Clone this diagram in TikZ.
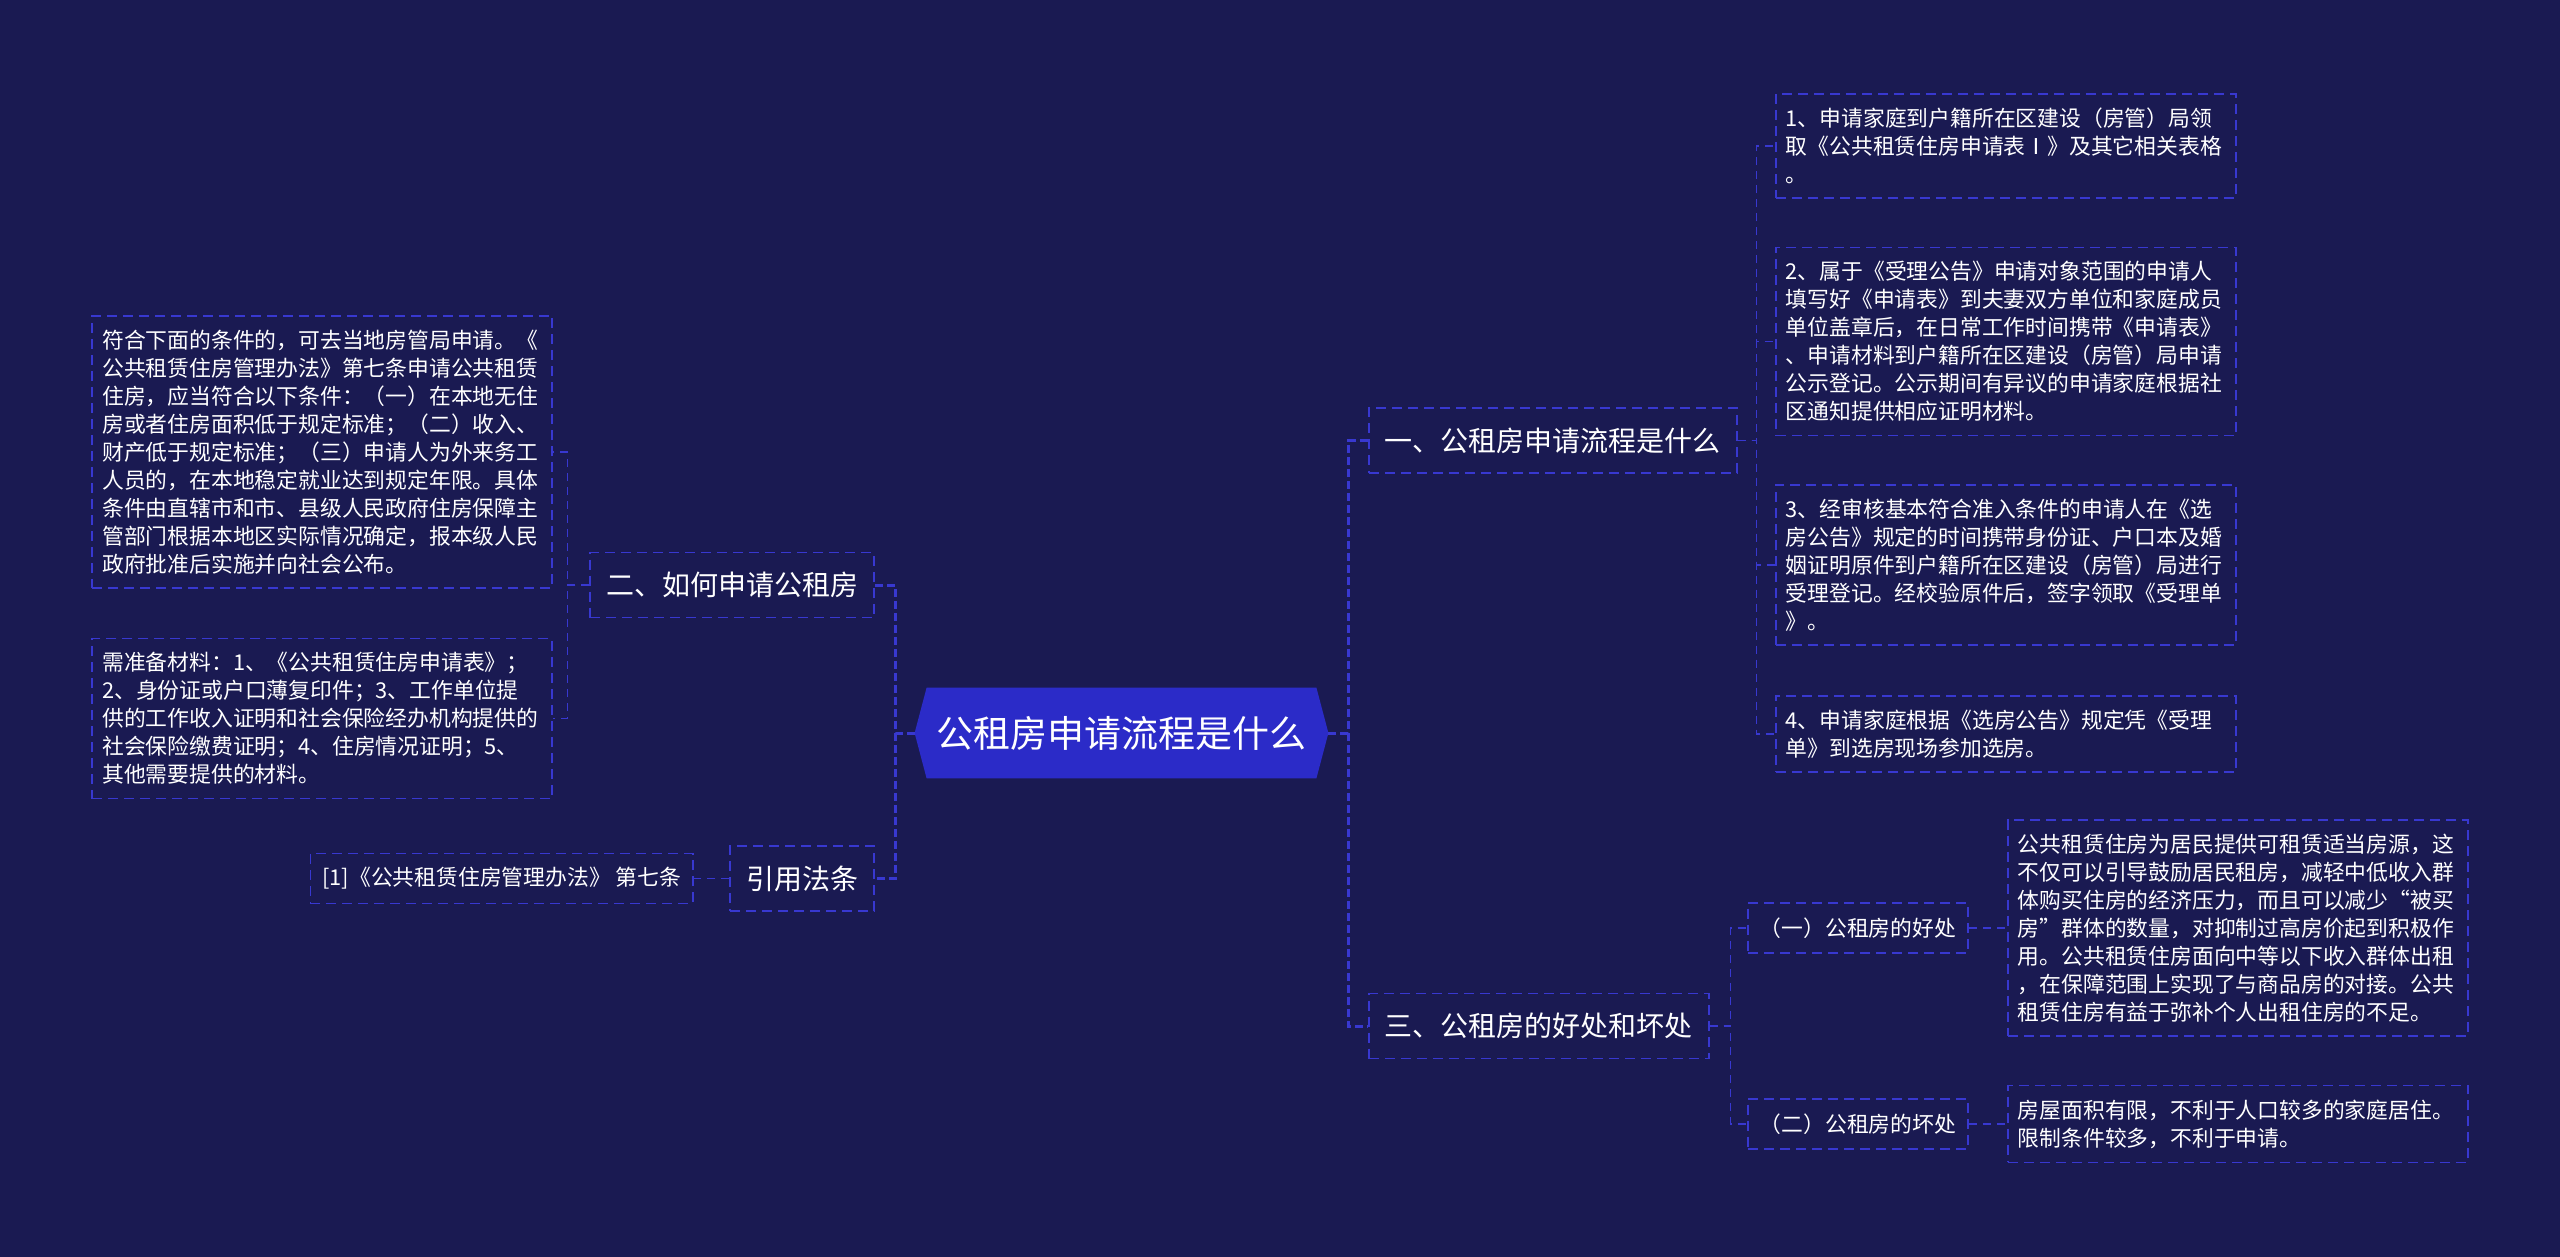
\documentclass[tikz,border=0pt]{standalone}
\usepackage{fontspec}
\setmainfont{Noto Sans CJK SC}
\usetikzlibrary{backgrounds}
\definecolor{bgc}{HTML}{1A1A52}
\definecolor{hexc}{HTML}{2B2BC8}
\definecolor{linec}{HTML}{3838D0}
\tikzset{
  box/.style={draw=linec, dash pattern=on 5pt off 3pt, line width=0.8pt, text=white},
  lvone/.style={box, font=\fontsize{14}{17}\selectfont, inner xsep=8pt, inner ysep=0pt, minimum height=32.5pt},
  leaf/.style={box, font=\fontsize{10.9}{14}\selectfont, align=left, text width=220pt, inner xsep=5pt, inner ysep=7pt},
  smallbox/.style={box, font=\fontsize{10.9}{14}\selectfont, inner xsep=6pt, inner ysep=0pt, minimum height=25pt},
  conn/.style={draw=linec, dash pattern=on 4pt off 3pt, line width=0.8pt},
  mainconn/.style={draw=linec, dash pattern=on 4pt off 2pt, line width=1.5pt},
  centre/.style={text=white, font=\fontsize{18.5}{22}\selectfont, minimum width=206.5pt, minimum height=45pt, inner sep=0pt},
}
\begin{document}
\begin{tikzpicture}[x=0.5pt,y=-0.5pt]
\useasboundingbox (0,0) rectangle (2560,1257);

% centre
\node[centre] (c) at (1121.5,733) {公租房申请流程是什么};

% right level one
\node[lvone, anchor=west] (n1) at (1368,440.5) {一、公租房申请流程是什么};
\node[lvone, anchor=west] (n3) at (1368,1026) {三、公租房的好处和坏处};

% left level one
\node[lvone, anchor=east] (n2) at (875,585) {二、如何申请公租房};
\node[lvone, anchor=east] (n4) at (875,878.5) {引用法条};

% leaves of n1
\node[leaf, anchor=west] (a1) at (1775,146) {1、申请家庭到户籍所在区建设（房管）局领\\取《公共租赁住房申请表Ⅰ》及其它相关表格\\。};
\node[leaf, anchor=west] (a2) at (1775,341.5) {2、属于《受理公告》申请对象范围的申请人\\填写好《申请表》到夫妻双方单位和家庭成员\\单位盖章后，在日常工作时间携带《申请表》\\、申请材料到户籍所在区建设（房管）局申请\\公示登记。公示期间有异议的申请家庭根据社\\区通知提供相应证明材料。};
\node[leaf, anchor=west] (a3) at (1775,565) {3、经审核基本符合准入条件的申请人在《选\\房公告》规定的时间携带身份证、户口本及婚\\姻证明原件到户籍所在区建设（房管）局进行\\受理登记。经校验原件后，签字领取《受理单\\》。};
\node[leaf, anchor=west] (a4) at (1775,734) {4、申请家庭根据《选房公告》规定凭《受理\\单》到选房现场参加选房。};

% children of n3
\node[smallbox, anchor=west] (b1) at (1747,928) {（一）公租房的好处};
\node[smallbox, anchor=west] (b2) at (1747,1124) {（二）公租房的坏处};
\node[leaf, anchor=west] (b1t) at (2007,928) {公共租赁住房为居民提供可租赁适当房源，这\\不仅可以引导鼓励居民租房，减轻中低收入群\\体购买住房的经济压力，而且可以减少“被买\\房”群体的数量，对抑制过高房价起到积极作\\用。公共租赁住房面向中等以下收入群体出租\\，在保障范围上实现了与商品房的对接。公共\\租赁住房有益于弥补个人出租住房的不足。};
\node[leaf, anchor=west] (b2t) at (2007,1124) {房屋面积有限，不利于人口较多的家庭居住。\\限制条件较多，不利于申请。};

% leaves of n2
\node[leaf, anchor=east] (l1) at (553,452) {符合下面的条件的，可去当地房管局申请。《\\公共租赁住房管理办法》第七条申请公共租赁\\住房，应当符合以下条件：（一）在本地无住\\房或者住房面积低于规定标准；（二）收入、\\财产低于规定标准；（三）申请人为外来务工\\人员的，在本地稳定就业达到规定年限。具体\\条件由直辖市和市、县级人民政府住房保障主\\管部门根据本地区实际情况确定，报本级人民\\政府批准后实施并向社会公布。};
\node[leaf, anchor=east] (l2) at (553,718.5) {需准备材料：1、《公共租赁住房申请表》；\\2、身份证或户口薄复印件；3、工作单位提\\供的工作收入证明和社会保险经办机构提供的\\社会保险缴费证明；4、住房情况证明；5、\\其他需要提供的材料。};
\node[smallbox, anchor=east] (l3) at (694,878.5) {[1]《公共租赁住房管理办法》 第七条};

% background and hexagon
\begin{scope}[on background layer]
\fill[bgc] (0,0) rectangle (2560,1257);
\fill[hexc] (c.west) -- ([xshift=6pt]c.north west) -- ([xshift=-6pt]c.north east) -- (c.east)
  -- ([xshift=-6pt]c.south east) -- ([xshift=6pt]c.south west) -- cycle;
\end{scope}

% connectors from centre
\coordinate (jr) at (1348,733);
\coordinate (jl) at (895,733);
\draw[mainconn] (c.east) -- (jr) |- (n1.west);
\draw[mainconn] (jr) |- (n3.west);
\draw[mainconn] (c.west) -- (jl) |- (n2.east);
\draw[mainconn] (jl) |- (n4.east);

% connectors n1 -> a
\draw[conn] (n1.east) -- ++(19,0) |- (a1.west);
\draw[conn] (n1.east) -- ++(19,0) |- (a2.west);
\draw[conn] (n1.east) -- ++(19,0) |- (a3.west);
\draw[conn] (n1.east) -- ++(19,0) |- (a4.west);

% n3 -> b
\draw[conn] (n3.east) -- ++(21,0) |- (b1.west);
\draw[conn] (n3.east) -- ++(21,0) |- (b2.west);
\draw[conn] (b1.east) -- (b1.east -| b1t.west);
\draw[conn] (b2.east) -- (b2.east -| b2t.west);

% n2 -> l
\draw[conn] (n2.west) -- ++(-22,0) |- (l1.east);
\draw[conn] (n2.west) -- ++(-22,0) |- (l2.east);
\draw[conn] (n4.west) -- (l3.east);
\end{tikzpicture}
\end{document}
